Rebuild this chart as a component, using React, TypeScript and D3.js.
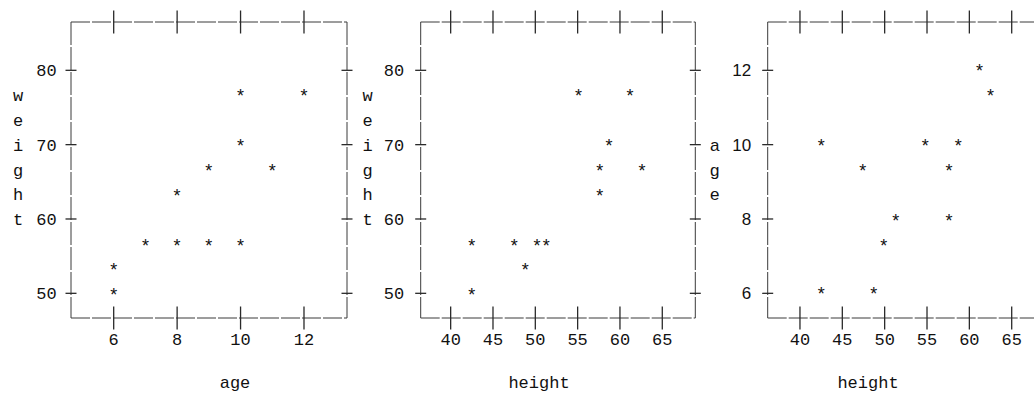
import React from "react";
import * as d3 from "d3";

// ---- data ----
const age1 = [6, 6, 7, 8, 9, 10, 8, 9, 11, 10, 10, 12];
const weight1 = [50.4, 53.8, 57, 57, 57, 57, 63.7, 67, 67, 70.4, 77.1, 77.1];

const height2 = [42.5, 42.5, 47.5, 50.2, 51.3, 48.8, 55.1, 61.2, 58.7, 57.6, 62.6, 57.6];
const weight2 = [50.4, 57, 57, 57, 57, 53.8, 77.1, 77.1, 70.4, 67, 67, 63.7];

const height3 = [61.2, 62.5, 42.5, 54.8, 58.7, 47.4, 57.6, 51.3, 57.6, 49.9, 42.5, 48.7];
const age3 = [12.1, 11.42, 10.08, 10.08, 10.08, 9.41, 9.41, 8.06, 8.06, 7.39, 6.09, 6.09];

const ageTicks = [6, 8, 10, 12];
const heightTicks = [40, 45, 50, 55, 60, 65];
const weightTicks = [50, 60, 70, 80];
const ageYTicks = [6, 8, 10, 12];

const W = 1034;
const H = 402;
const TOP = 22;
const BOTTOM = 318;
const CELL = 10.5;
const LINE = 24.8;
const MONO = "'Liberation Mono', 'DejaVu Sans Mono', monospace";
const SANS = "'Liberation Sans', Arial, sans-serif";

type Panel = {
  left: number;
  width: number;
  xDomain: [number, number];
  yDomain: [number, number];
  xs: number[];
  ys: number[];
  xTicks: number[];
  yTicks: number[];
  xTitle: string;
  yTitle: string;
  xTitleCenter: number; // offset from frame left
  yTitleStartLine: number; // line index relative to top tick
  yLabelGap: number;
  yFont: string;
};

const panels: Panel[] = [
  {
    left: 71, width: 276, xDomain: [4.654, 13.356], yDomain: [46.68, 86.5],
    xs: age1, ys: weight1, xTicks: ageTicks, yTicks: weightTicks,
    xTitle: "age", yTitle: "weight", xTitleCenter: 164, yTitleStartLine: 1, yLabelGap: 14.3, yFont: MONO,
  },
  {
    left: 420.7, width: 274.6, xDomain: [36.46, 68.9], yDomain: [46.68, 86.5],
    xs: height2, ys: weight2, xTicks: heightTicks, yTicks: weightTicks,
    xTitle: "height", yTitle: "weight", xTitleCenter: 118.3, yTitleStartLine: 1, yLabelGap: 16.5, yFont: MONO,
  },
  {
    left: 767.7, width: 275, xDomain: [36.19, 68.66], yDomain: [5.336, 13.3],
    xs: height3, ys: age3, xTicks: heightTicks, yTicks: ageYTicks,
    xTitle: "height", yTitle: "age", xTitleCenter: 100.3, yTitleStartLine: 3, yLabelGap: 16.5, yFont: SANS,
  },
];

function cellXs(str: string, center: number) {
  const n = str.length;
  return str.split("").map((_, i) => (center - (CELL * (n - 1)) / 2 + i * CELL).toFixed(2)).join(" ");
}

function PanelView({ p }: { p: Panel }) {
  const x = d3.scaleLinear().domain(p.xDomain).range([p.left, p.left + p.width]);
  const y = d3.scaleLinear().domain(p.yDomain).range([BOTTOM, TOP]);
  const right = p.left + p.width;
  const frameColor = "#3a3a3a";
  const tickColor = "#2a2a2a";
  const yTopTick = y(d3.max(p.yTicks) as number);
  return (
    <g>
      {/* frame */}
      <line x1={p.left} x2={right} y1={TOP} y2={TOP} stroke={frameColor} strokeWidth={1} strokeDasharray="19 2" />
      <line x1={p.left} x2={right} y1={BOTTOM} y2={BOTTOM} stroke={frameColor} strokeWidth={1} strokeDasharray="19 2" />
      <line x1={p.left} x2={p.left} y1={TOP} y2={BOTTOM} stroke={frameColor} strokeWidth={1} strokeDasharray="23 2" />
      <line x1={right} x2={right} y1={TOP} y2={BOTTOM} stroke={frameColor} strokeWidth={1} strokeDasharray="23 2" />
      {/* x ticks top & bottom */}
      {p.xTicks.map((t) => (
        <g key={"xt" + t}>
          <line x1={x(t)} x2={x(t)} y1={TOP - 11.5} y2={TOP + 11.5} stroke={tickColor} strokeWidth={1.3} />
          <line x1={x(t)} x2={x(t)} y1={BOTTOM - 11.5} y2={BOTTOM + 11.5} stroke={tickColor} strokeWidth={1.3} />
          <text x={x(t)} y={BOTTOM + 27} textAnchor="middle" fontFamily={MONO} fontSize={17} fill="#111">
            {String(t)}
          </text>
        </g>
      ))}
      {/* y ticks left & right */}
      {p.yTicks.map((t) => (
        <g key={"yt" + t}>
          <line x1={p.left - 5.5} x2={p.left + 5.5} y1={y(t)} y2={y(t)} stroke={tickColor} strokeWidth={1.3} />
          <line x1={right - 5.5} x2={right + 5.5} y1={y(t)} y2={y(t)} stroke={tickColor} strokeWidth={1.3} />
          <text x={p.left - p.yLabelGap} y={y(t) + 6} textAnchor="end" fontFamily={p.yFont} fontSize={17} fill="#111">
            {String(t)}
          </text>
        </g>
      ))}
      {/* y title, one letter per line */}
      {p.yTitle.split("").map((ch, i) => (
        <text key={"yl" + i} x={p.left - 53} y={yTopTick + (p.yTitleStartLine + i) * LINE + 6}
          textAnchor="middle" fontFamily={p.yFont} fontSize={17} fill="#111">
          {ch}
        </text>
      ))}
      {/* x title */}
      <text x={p.left + p.xTitleCenter} y={388} textAnchor="middle" fontFamily={MONO} fontSize={17} fill="#111">
        {p.xTitle}
      </text>
      {/* points */}
      {p.xs.map((v, i) => (
        <text key={"pt" + i} x={x(v)} y={y(p.ys[i]) + 10.5} textAnchor="middle" fontFamily={SANS} fontSize={18} fill="#111">
          *
        </text>
      ))}
    </g>
  );
}

export default function App() {
  return (
    <svg width={W} height={H} style={{ position: "absolute", left: 0, top: 0, background: "#fff" }}>
      <rect x={0} y={0} width={W} height={H} fill="#fff" />
      {panels.map((p, i) => (
        <PanelView key={i} p={p} />
      ))}
    </svg>
  );
}
